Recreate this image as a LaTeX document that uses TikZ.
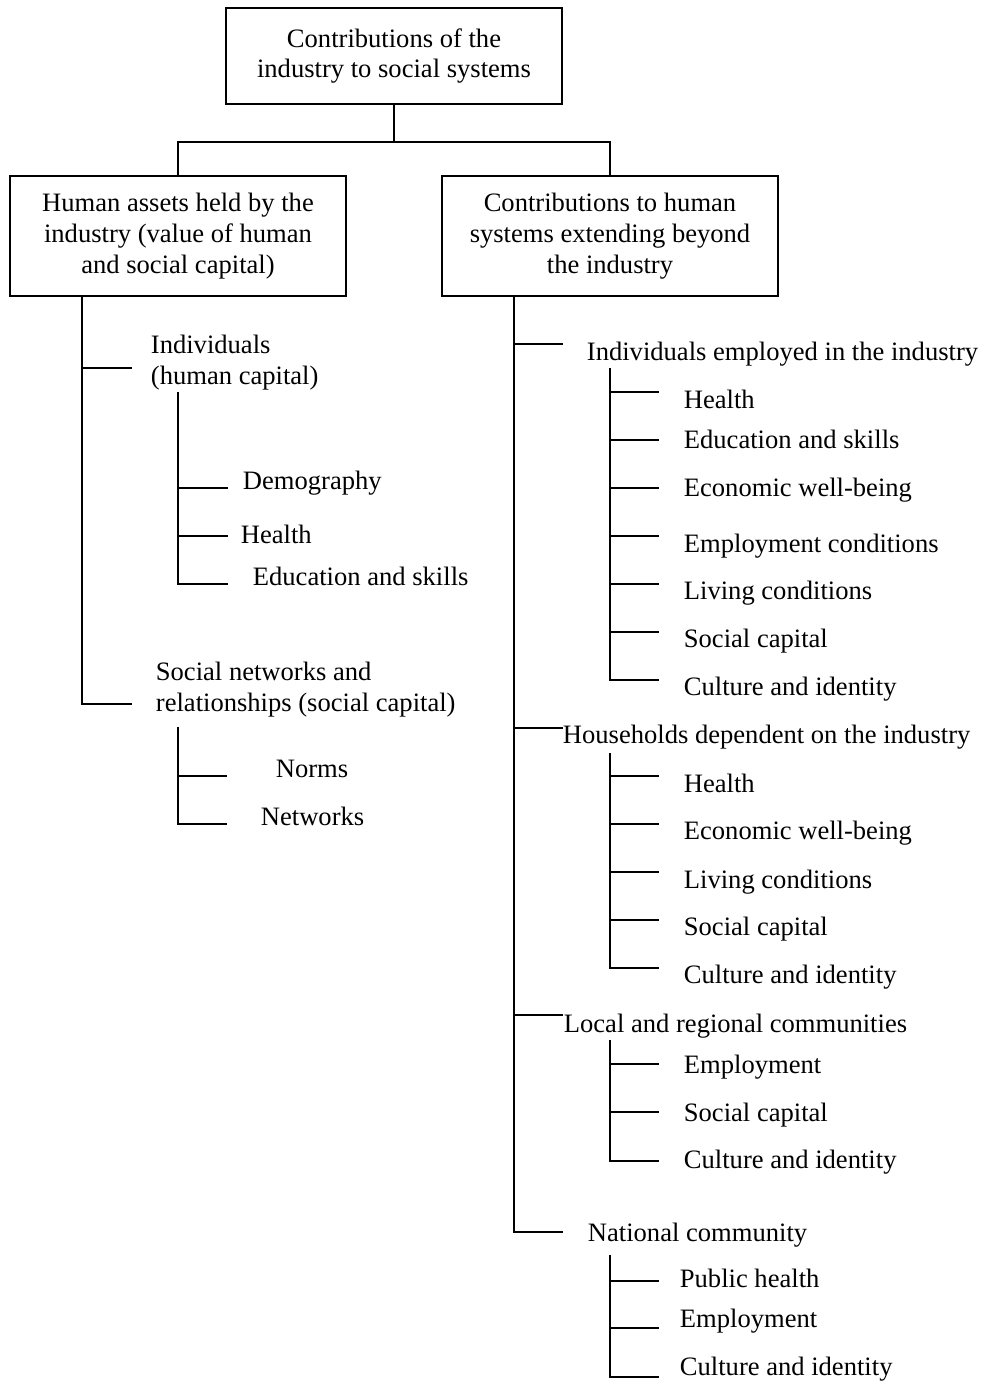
\documentclass[tikz,border=0pt]{standalone}
\usepackage{fontspec}
\setmainfont{Liberation Serif}
\usetikzlibrary{positioning}

\begin{document}
\begin{tikzpicture}[x=0.025cm, y=-0.025cm, line width=1.3pt,
    font=\fontsize{18.9}{22}\selectfont,
    box/.style={draw, align=center, minimum width=8.4cm, inner sep=2pt},
    item/.style={anchor=base west, inner sep=0pt},
    group/.style={anchor=west, inner sep=0pt, align=left}]
          \useasboundingbox (0,0) rectangle (983,1382);
          % boxes
          \node [box, minimum height=2.4cm] (root) at (394,56) {Contributions of the\\industry to social systems};
          \node [box, minimum height=3cm] (assets) at (178,236) {Human assets held by the\\industry (value of human\\and social capital)};
          \node [box, minimum height=3cm] (beyond) at (610,236) {Contributions to human\\systems extending beyond\\the industry};
          \coordinate (fork) at (394,142);
          \draw (root) -- (fork);
          \draw (assets.north) |- (fork) -| (beyond.north);
          % left side
          \coordinate (lbar) at (82,704);
          \node [group] (indiv) at (150,363) {Individuals\\(human capital)};
          \node [group] (social) at (155,690) {Social networks and\\relationships (social capital)};
          \coordinate (indivb) at (132,368);
          \coordinate (socialb) at (132,704);
          \draw (indivb -| lbar) -- (indivb);
          \draw (assets.south -| lbar) |- (socialb);
          \coordinate (hbar) at (178,392);
          \foreach \y/\x/\b/\t [count=\i] in {
            488/242/489/Demography, 536/240/543/Health, 584/252/585/Education and skills
          }{
            \coordinate (hum\i) at (228,\y);
            \draw (hum\i -| hbar) -- (hum\i);
            \node [item] (humT\i) at (\x,\b) {\t};
          }
          \draw (hbar) |- (hum3);
          \coordinate (nbar) at (178,727);
          \foreach \y/\x/\b/\t [count=\i] in {776/275/777/Norms, 824/260/825/Networks}{
            \coordinate (net\i) at (227,\y);
            \draw (net\i -| nbar) -- (net\i);
            \node [item] (netT\i) at (\x,\b) {\t};
          }
          \draw (nbar) |- (net2);
          % right side
          \coordinate (rbar) at (514,296);
          \foreach \y/\x/\b/\t [count=\i] in {
            344/586/360/Individuals employed in the industry,
            728/562/743/Households dependent on the industry,
            1015/563/1032/Local and regional communities,
            1232/587/1241/National community
          }{
            \coordinate (grp\i) at (563,\y);
            \draw (grp\i -| rbar) -- (grp\i);
            \node [item] (grpT\i) at (\x,\b) {\t};
          }
          \draw (beyond.south -| rbar) |- (grp4);
          \coordinate (ebar) at (610,368);
          \foreach \y/\b/\t [count=\i] in {
            392/408/Health, 440/448/Education and skills, 488/496/Economic well-being,
            536/552/Employment conditions, 584/599/Living conditions,
            632/647/Social capital, 680/695/Culture and identity
          }{
            \coordinate (emp\i) at (659,\y);
            \draw (emp\i -| ebar) -- (emp\i);
            \node [item] (empT\i) at (683,\b) {\t};
          }
          \draw (ebar) |- (emp7);
          \coordinate (hhbar) at (610,753);
          \foreach \y/\b/\t [count=\i] in {
            776/792/Health, 824/839/Economic well-being, 872/888/Living conditions,
            920/935/Social capital, 968/983/Culture and identity
          }{
            \coordinate (hh\i) at (659,\y);
            \draw (hh\i -| hhbar) -- (hh\i);
            \node [item] (hhT\i) at (683,\b) {\t};
          }
          \draw (hhbar) |- (hh5);
          \coordinate (lcbar) at (610,1040);
          \foreach \y/\b/\t [count=\i] in {
            1064/1073/Employment, 1112/1121/Social capital, 1161/1168/Culture and identity
          }{
            \coordinate (lc\i) at (659,\y);
            \draw (lc\i -| lcbar) -- (lc\i);
            \node [item] (lcT\i) at (683,\b) {\t};
          }
          \draw (lcbar) |- (lc3);
          \coordinate (ncbar) at (610,1255);
          \foreach \y/\b/\t [count=\i] in {
            1281/1287/Public health, 1328/1327/Employment, 1377/1375/Culture and identity
          }{
            \coordinate (nc\i) at (659,\y);
            \draw (nc\i -| ncbar) -- (nc\i);
            \node [item] (ncT\i) at (679,\b) {\t};
          }
          \draw (ncbar) |- (nc3);
        \end{tikzpicture}
\end{document}
